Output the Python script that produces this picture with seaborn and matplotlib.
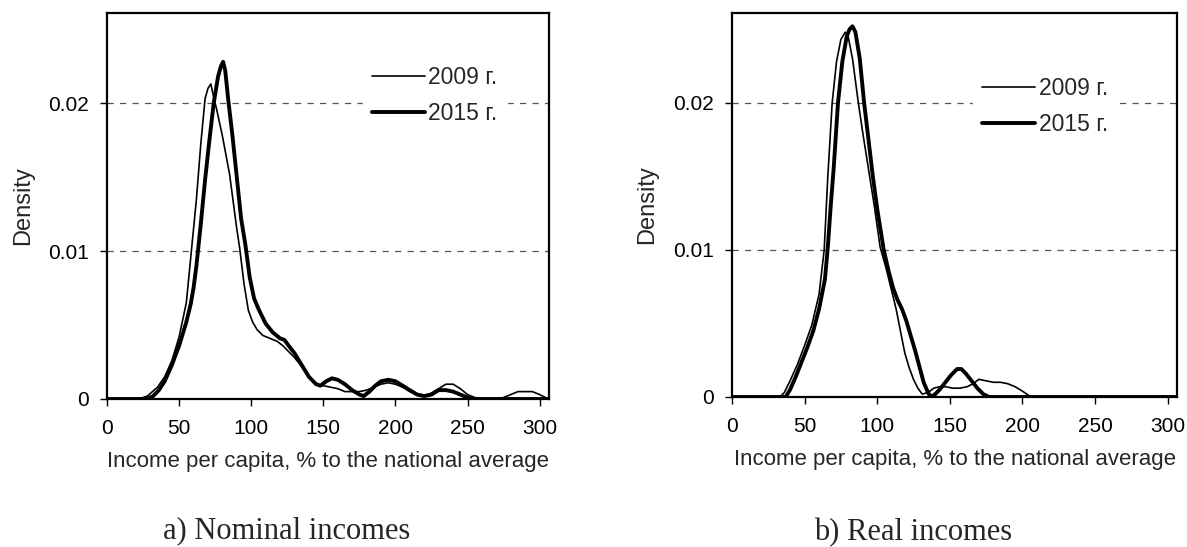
import numpy as np
import pandas as pd
import matplotlib
matplotlib.use("Agg")
import matplotlib.pyplot as plt
import seaborn as sns

# density curves (x = income, % of national average)
nominal_2009_x = [0, 22, 28, 35, 40, 45, 50, 55, 58, 62, 65, 68, 70, 72, 74, 76, 80, 85, 90,
                  92, 95, 98, 101, 104, 108, 113, 118, 122, 126, 130, 135, 140, 145, 150,
                  155, 160, 165, 170, 175, 180, 185, 190, 195, 200, 205, 210, 215, 220, 225,
                  230, 235, 240, 245, 250, 255, 260, 265, 270, 275, 280, 285, 290, 295, 300, 306]
nominal_2009_y = [0, 0, 0.0002, 0.0008, 0.0015, 0.0026, 0.0042, 0.0065, 0.0095, 0.0135, 0.0172,
                  0.0203, 0.0210, 0.0213, 0.0204, 0.0196, 0.0178, 0.0152, 0.0115, 0.0102, 0.0078,
                  0.0060, 0.0052, 0.0047, 0.0043, 0.0041, 0.0039, 0.0036, 0.0032, 0.0028, 0.0022,
                  0.0015, 0.0010, 0.0009, 0.0008, 0.0007, 0.0005, 0.0005, 0.0005, 0.0006, 0.0008,
                  0.0010, 0.0011, 0.0010, 0.0008, 0.0005, 0.0003, 0.0002, 0.0004, 0.0007, 0.0010,
                  0.0010, 0.0007, 0.0003, 0.0001, 0, 0, 0, 0.0001, 0.0003, 0.0005, 0.0005, 0.0005,
                  0.0003, 0]

nominal_2015_x = [0, 28, 32, 36, 40, 45, 50, 55, 58, 60, 62, 65, 68, 71, 74, 77, 79, 80.5, 82,
                  84, 87, 90, 93, 96, 99, 102, 105, 110, 115, 120, 123, 126, 130, 135, 140, 145,
                  148, 152, 156, 160, 165, 170, 175, 178, 182, 186, 190, 195, 200, 205, 210, 215,
                  220, 225, 230, 235, 240, 245, 250, 255, 306]
nominal_2015_y = [0, 0, 0.0002, 0.0006, 0.0012, 0.0023, 0.0036, 0.0052, 0.0064, 0.0075, 0.0090,
                  0.0118, 0.0148, 0.0175, 0.0200, 0.0218, 0.0225, 0.0228, 0.0222, 0.0203, 0.0178,
                  0.0150, 0.0122, 0.0104, 0.0082, 0.0068, 0.0061, 0.0051, 0.0045, 0.0041, 0.0040,
                  0.0036, 0.0031, 0.0023, 0.0015, 0.0010, 0.0009, 0.0012, 0.0014, 0.0013, 0.0010,
                  0.0006, 0.0003, 0.0002, 0.0005, 0.0009, 0.0012, 0.0013, 0.0012, 0.0009, 0.0006,
                  0.0003, 0.0002, 0.0003, 0.0006, 0.0006, 0.0005, 0.0003, 0.0001, 0, 0]

real_2009_x = [0, 33, 36, 40, 45, 50, 55, 60, 63.5, 66, 69, 72, 75, 78, 80, 83, 87, 90, 94, 98,
               102, 106, 110, 113, 116, 119, 122, 125, 128, 131, 135, 139, 143, 147, 152, 157,
               162, 166, 170, 175, 180, 185, 190, 195, 200, 203, 206, 306]
real_2009_y = [0, 0, 0.0003, 0.0011, 0.0022, 0.0035, 0.0049, 0.0070, 0.0100, 0.0150, 0.0200,
               0.0228, 0.0243, 0.0248, 0.0245, 0.0230, 0.0200, 0.0180, 0.0155, 0.0130, 0.0102,
               0.0088, 0.0072, 0.0060, 0.0045, 0.0030, 0.0020, 0.0012, 0.0006, 0.0002, 0.0003,
               0.0006, 0.0007, 0.0007, 0.0006, 0.0006, 0.0007, 0.0009, 0.0012, 0.0011, 0.0010,
               0.0010, 0.0009, 0.0007, 0.0004, 0.0002, 0, 0]

real_2015_x = [0, 37, 40, 44, 48, 52, 56, 60, 64, 66, 68, 70, 73, 76, 79, 81, 83, 85, 88, 91,
               94, 97, 100, 104.5, 108, 111, 114, 117, 120, 123, 126, 129, 132, 135, 137, 140,
               143, 147, 151, 155, 158, 161, 165, 169, 173, 177, 306]
real_2015_y = [0, 0, 0.0005, 0.0014, 0.0024, 0.0034, 0.0045, 0.0060, 0.0080, 0.0102, 0.0130,
               0.0155, 0.0200, 0.0228, 0.0245, 0.0250, 0.0252, 0.0248, 0.0230, 0.0200, 0.0175,
               0.0150, 0.0128, 0.0100, 0.0085, 0.0074, 0.0066, 0.0060, 0.0052, 0.0042, 0.0032,
               0.0021, 0.0010, 0.0003, 0, 0.0002, 0.0005, 0.0010, 0.0015, 0.0019, 0.0019, 0.0016,
               0.0011, 0.0006, 0.0002, 0, 0]

series_labels = ["2009 г.", "2015 г."]
x_ticks = [0, 50, 100, 150, 200, 250, 300]
y_ticks = [0, 0.01, 0.02]
y_tick_labels = ["0", "0.01", "0.02"]
x_label = "Income per capita, % to the national average"
y_label = "Density"
captions = ["a) Nominal incomes", "b) Real incomes"]

sns.set_style("white")
plt.rcParams["font.family"] = ["Liberation Sans", "DejaVu Sans"]
plt.rcParams["lines.scale_dashes"] = False

fig = plt.figure(figsize=(11.87, 5.47), dpi=100)
ax1 = fig.add_axes([107 / 1187, 148 / 547, 442 / 1187, 386 / 547])
ax2 = fig.add_axes([732 / 1187, 150 / 547, 445 / 1187, 384 / 547])

panels = [
    (ax1, nominal_2009_x, nominal_2009_y, nominal_2015_x, nominal_2015_y, (0.579, 0.887)),
    (ax2, real_2009_x, real_2009_y, real_2015_x, real_2015_y, (0.542, 0.858)),
]

for ax, x09, y09, x15, y15, leg_pos in panels:
    sns.lineplot(x=x09, y=y09, ax=ax, color="black", linewidth=1.2, label=series_labels[0])
    sns.lineplot(x=x15, y=y15, ax=ax, color="black", linewidth=2.8, label=series_labels[1])

    ax.set_xlim(0, 306.5)
    ax.set_ylim(0, 0.0261)
    ax.set_xticks(x_ticks)
    ax.set_yticks(y_ticks, labels=y_tick_labels)
    ax.tick_params(axis="both", direction="out", length=5, width=1, color="black",
                   labelsize=15, labelcolor="black")
    ax.tick_params(axis="x", pad=9.5)
    ax.tick_params(axis="y", pad=8)
    ax.tick_params(bottom=True, left=True, top=False, right=False)

    ax.yaxis.grid(True, linestyle=(0, (4.5, 4.5)), color="#555555", linewidth=0.9)
    ax.xaxis.grid(False)
    ax.set_axisbelow(True)
    for sp in ax.spines.values():
        sp.set_color("black")
        sp.set_linewidth(1.6)

    ax.set_xlabel(x_label, fontsize=16)
    ax.set_ylabel(y_label, fontsize=17)
    ax.xaxis.set_label_coords(0.5, -0.135)
    ax.yaxis.set_label_coords(-0.165, 0.5)

    leg = ax.legend(loc="upper left", bbox_to_anchor=leg_pos, fontsize=16.5, frameon=True,
                    fancybox=False, framealpha=1, facecolor="white", edgecolor="white",
                    handlelength=2.3, handletextpad=0.15, labelspacing=0.57, borderpad=0.4,
                    borderaxespad=0)

fig.text(287 / 1187, 9 / 547, captions[0], ha="center", va="baseline", fontsize=22,
         family=["Liberation Serif", "DejaVu Serif"])
fig.text(913 / 1187, 7 / 547, captions[1], ha="center", va="baseline", fontsize=22,
         family=["Liberation Serif", "DejaVu Serif"])

fig.savefig("out.png", dpi=100)
